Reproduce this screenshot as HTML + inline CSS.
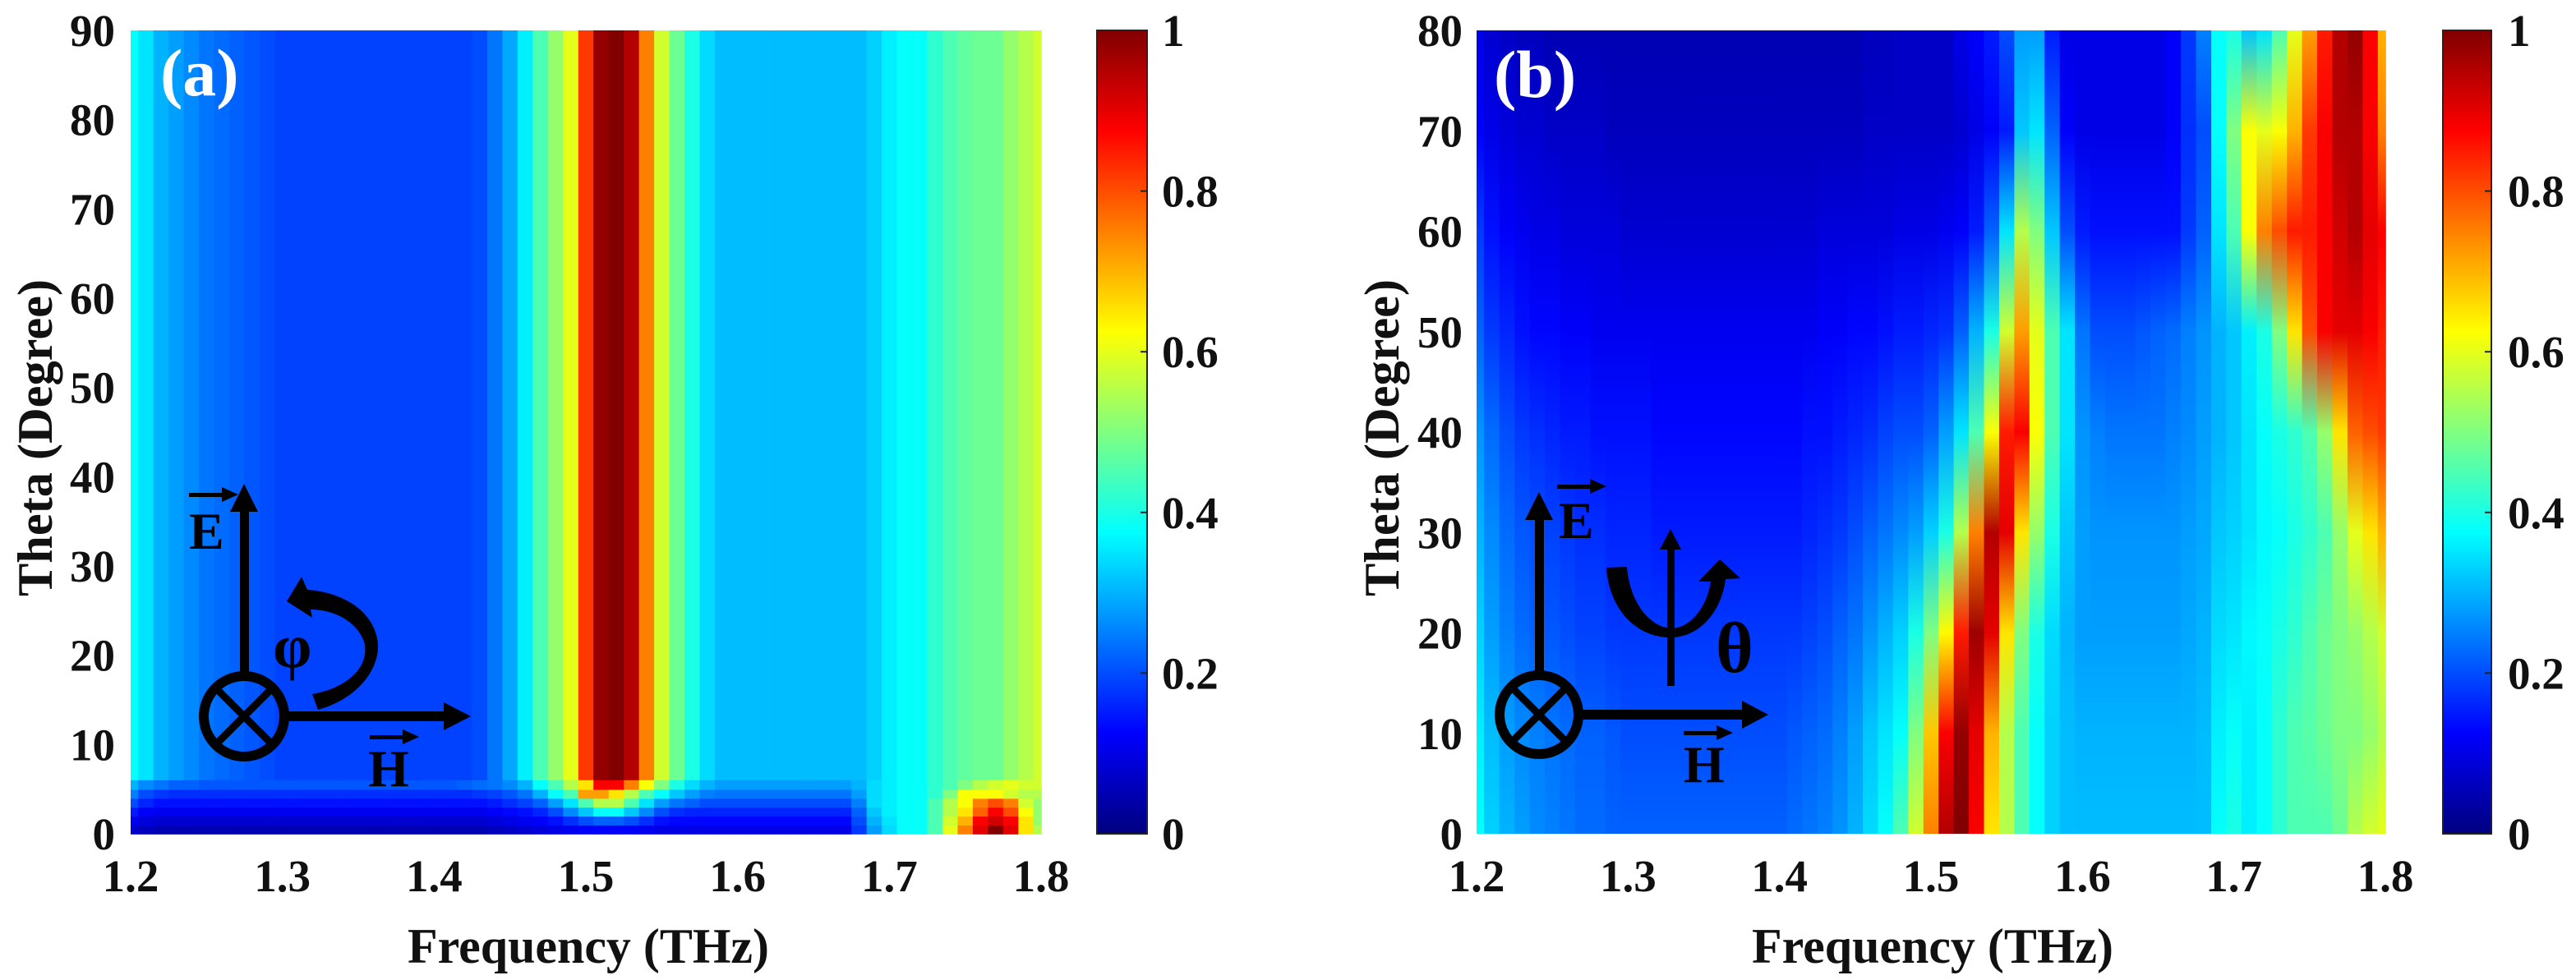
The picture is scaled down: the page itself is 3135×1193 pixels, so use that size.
<!DOCTYPE html>
<html><head><meta charset="utf-8"><title>Absorption maps</title>
<style>
html,body{margin:0;padding:0;background:#fff;}
svg{display:block;}
text{font-family:"Liberation Serif","Times New Roman",serif;font-weight:bold;}
</style></head>
<body>
<svg id="fig" xmlns="http://www.w3.org/2000/svg" width="3135" height="1193" viewBox="0 0 3135 1193">
  <rect width="3135" height="1193" fill="#fff"/>
  <g id="heat-a"></g>
  <g id="heat-b"></g>
  <g id="cbars"></g>
  <g id="ticks" font-size="55" fill="#111"></g>

  <text x="716" y="1172" font-size="60" text-anchor="middle" textLength="440" lengthAdjust="spacingAndGlyphs" fill="#111">Frequency (THz)</text>
  <text x="2352" y="1172" font-size="60" text-anchor="middle" textLength="440" lengthAdjust="spacingAndGlyphs" fill="#111">Frequency (THz)</text>
  <text transform="translate(63,533) rotate(-90)" font-size="60" text-anchor="middle" textLength="386" lengthAdjust="spacingAndGlyphs" fill="#111">Theta (Degree)</text>
  <text transform="translate(1702,533) rotate(-90)" font-size="60" text-anchor="middle" textLength="386" lengthAdjust="spacingAndGlyphs" fill="#111">Theta (Degree)</text>

  <text x="195" y="116" font-size="82" fill="#fff">(a)</text>
  <text x="1818" y="118" font-size="82" fill="#fff">(b)</text>

  <g fill="#000" stroke="none">
    <circle cx="297" cy="872" r="49" fill="none" stroke="#000" stroke-width="12"/>
    <line x1="263" y1="838" x2="331" y2="906" stroke="#000" stroke-width="9"/>
    <line x1="331" y1="838" x2="263" y2="906" stroke="#000" stroke-width="9"/>
    <rect x="292" y="615" width="11" height="210"/>
    <polygon points="297,589 280,623 314,623"/>
    <rect x="345" y="866" width="200" height="12"/>
    <polygon points="573,872 540,855 540,889"/>
    <text x="230" y="668" font-size="64">E</text>
    <rect x="230" y="600" width="44" height="5"/><polygon points="290,602 270,593 270,611"/>
    <text x="448" y="957" font-size="64">H</text>
    <rect x="450" y="895" width="44" height="5"/><polygon points="510,897 490,888 490,906"/>
    <text x="332" y="812" font-size="76">φ</text>
    <path d="M387,864 C440,850 470,805 457,770 C447,738 410,720 374,718 L367,702 L349,732 L380,752 L378,742 C410,742 438,760 444,785 C448,815 420,838 380,845 Z"/>
  </g>

  <g fill="#000" stroke="none">
    <circle cx="1873" cy="870" r="48" fill="none" stroke="#000" stroke-width="12"/>
    <line x1="1839" y1="836" x2="1907" y2="904" stroke="#000" stroke-width="9"/>
    <line x1="1907" y1="836" x2="1839" y2="904" stroke="#000" stroke-width="9"/>
    <rect x="1868" y="625" width="11" height="195"/>
    <polygon points="1873,599 1856,633 1890,633"/>
    <rect x="1920" y="864" width="205" height="12"/>
    <polygon points="2152,870 2120,853 2120,887"/>
    <text x="1897" y="655" font-size="64">E</text>
    <rect x="1895" y="590" width="44" height="5"/><polygon points="1955,592 1935,583 1935,601"/>
    <text x="2049" y="952" font-size="64">H</text>
    <rect x="2049" y="890" width="44" height="5"/><polygon points="2109,892 2089,883 2089,901"/>
    <rect x="2029" y="665" width="9" height="170"/>
    <polygon points="2033,644 2020,669 2046,669"/>
    <path d="M1955,691 L1980,690 C1983,730 2005,762 2033,765 C2060,765 2078,735 2082,708 L2067,708 L2093,681 L2118,704 L2100,705 C2095,745 2068,776 2033,776 C1990,776 1958,740 1955,691 Z"/>
    <text x="2088" y="818" font-size="88">θ</text>
  </g>
</svg>

<script>
// ---------- data ----------
const freqs = [];
for (let i = 0; i <= 60; i++) freqs.push(+(1.2 + i * 0.01).toFixed(2));
const xTickLabels = ["1.2","1.3","1.4","1.5","1.6","1.7","1.8"];
const xTicks = [1.2,1.3,1.4,1.5,1.6,1.7,1.8];
const yTicksA = [0,10,20,30,40,50,60,70,80,90];
const yTicksB = [0,10,20,30,40,50,60,70,80];
const cbTicks = [0,0.2,0.4,0.6,0.8,1];
const cbTickLabels = ["0","0.2","0.4","0.6","0.8","1"];

// Panel (a): absorption (%), rows theta = 0..5 deg, then theta >= 6 deg
const thetaRowsA = [0,1,2,3,4,5];
const absA_row0 = [8,6,5,5,5,5,5,5,5,5, 5,5,5,5,5,5,5,5,5,5, 5,5,5,5,6,7,8,9,10,11, 12,12,12,12,11,10,10,10,10,10, 10,10,10,10,10,10,10,10,18,28, 34,38,38,45,60,75,90,100,90,65, 55];
const absA_row1 = [11,9,8,8,8,8,8,8,8,8, 8,8,8,8,8,8,8,8,8,8, 8,8,8,8,9,10,11,12,14,17, 20,22,22,20,17,14,13,13,13,13, 13,13,13,13,13,13,13,13,20,30, 35,38,38,45,58,70,88,92,88,65, 52];
const absA_row2 = [15,12,11,11,11,11,11,11,11,11, 11,11,11,11,11,11,11,11,11,11, 11,11,11,11,12,13,14,16,20,26, 32,38,38,32,26,20,17,16,16,16, 16,16,16,16,16,16,16,16,22,32, 36,38,38,45,55,65,78,88,80,62, 52];
const absA_row3 = [20,16,14,14,14,14,14,14,14,14, 14,14,14,14,14,14,14,14,14,14, 14,14,14,14,15,17,19,22,28,35, 45,55,55,45,35,28,24,22,20,20, 20,20,20,20,20,20,20,20,25,34, 36,38,38,45,55,62,75,80,75,58, 52];
const absA_row4 = [25,20,18,17,17,17,17,17,17,17, 17,17,17,17,17,17,17,17,17,17, 17,17,17,18,19,21,24,30,38,45, 72,72,65,55,45,38,32,28,25,24, 24,24,24,24,24,24,24,24,28,34, 36,38,38,42,50,62,62,62,58,55, 55];
const absA_row5 = [30,26,24,22,22,21,21,21,21,21, 21,21,21,21,21,21,21,21,21,21, 21,21,22,23,24,26,30,38,45,55, 65,88,88,75,62,50,40,34,30,28, 28,28,28,28,28,28,28,28,30,34, 36,38,38,42,45,50,55,58,60,58, 58];
const absA_main = [38,35,30,28,26,24,23,22,21,20, 19,19,19,19,19,19,19,19,19,19, 19,19,19,20,24,29,36,45,52,60, 82,98,100,95,75,58,48,40,34,31, 31,31,31,31,31,31,31,31,31,33, 36,38,38,42,45,47,48,48,52,55, 58];

// Panel (b): absorption (%) at theta = 0,10,...,80 deg
const thetaRowsB = [0,10,20,30,40,50,60,70,80];
const absB_th0  = [38,33,30,28,26,25,24,23,23,22, 22,22,22,22,22,22,22,22,22,22, 22,23,24,25,27,30,34,38,45,58, 75,95,100,88,65,55,45,38,33,31, 31,31,31,31,31,31,31,31,31,38, 40,36,38,42,45,45,45,48,55,58, 60];
const absB_th10 = [36,31,28,26,25,24,23,22,22,21, 20,20,20,20,20,20,20,20,20,20, 20,21,22,23,25,28,32,35,38,50, 68,88,98,90,70,55,45,38,33,31, 30,30,30,30,30,30,30,30,31,36, 38,36,38,42,45,46,48,50,50,52, 55];
const absB_th20 = [33,28,25,23,22,21,20,19,19,18, 18,18,18,18,18,18,18,18,18,18, 18,18,19,20,22,24,27,30,33,40, 50,63,85,97,90,65,50,40,34,30, 28,28,28,28,28,28,28,29,30,34, 35,37,38,40,42,45,48,50,52,55, 58];
const absB_th30 = [30,26,23,21,20,19,18,17,17,16, 16,16,15,15,15,15,15,15,15,15, 15,15,16,17,18,20,22,24,26,28, 33,40,55,75,95,90,65,52,40,32, 28,27,27,27,27,27,27,28,29,32, 33,35,37,38,40,42,45,52,60,65, 70];
const absB_th40 = [27,23,20,18,17,16,15,15,14,14, 14,14,13,13,13,13,13,13,13,13, 13,13,14,14,15,16,17,19,20,20, 22,28,35,45,62,85,88,62,45,35, 27,25,24,24,24,24,25,26,28,30, 32,35,38,40,42,45,52,65,78,80, 82];
const absB_th50 = [22,18,16,14,13,13,12,12,11,11, 11,11,11,11,11,11,11,11,11,11, 11,11,11,12,12,13,13,14,15,15, 16,17,22,30,40,58,72,60,45,35, 24,20,20,20,21,22,23,25,27,30, 32,36,40,50,65,80,88,90,90,88, 85];
const absB_th60 = [18,14,12,11,10,10,9,9,9,9, 8,8,8,8,8,8,8,8,8,8, 8,8,8,9,9,9,9,9,10,10, 10,11,12,15,22,35,55,50,32,20, 15,14,14,14,14,14,14,18,22,35, 45,62,75,80,85,85,88,92,95,90, 88];
const absB_th70 = [12,10,9,8,8,7,7,7,7,6, 6,6,6,6,6,6,6,6,6,6, 6,6,6,6,6,6,7,7,7,7, 7,7,8,10,12,15,32,35,22,12, 10,10,10,10,10,10,12,17,20,38, 50,62,60,62,70,82,88,95,95,88, 75];
const absB_th80 = [10,8,7,6,6,5,5,5,5,5, 5,5,5,5,5,5,5,5,5,5, 5,5,5,5,5,5,6,6,7,7, 7,7,10,12,15,20,28,28,15,10, 10,10,10,10,10,10,12,18,25,38, 40,32,35,45,60,72,85,95,98,88, 70];

// ---------- layout ----------
const NS = "http://www.w3.org/2000/svg";
const PA = {x0:159, x1:1267, y0:37, y1:1015, tmax:90, cb:[1335,1396], cbLab:1414, yLabR:140};
const PB = {x0:1797, x1:2903, y0:37, y1:1015, tmax:80, cb:[2973,3032], cbLab:3052, yLabR:1780};

function jet(v){
  v = Math.max(0, Math.min(1, v));
  const c = t => Math.round(255*Math.max(0, Math.min(1, 1.5 - Math.abs(t))));
  return `rgb(${c(4*v-3)},${c(4*v-2)},${c(4*v-1)})`;
}
function xScale(P, f){ return P.x0 + (f - 1.2) / 0.6 * (P.x1 - P.x0); }
function yScale(P, t){ return P.y1 - t / P.tmax * (P.y1 - P.y0); }
function mk(tag, attrs, parent){
  const e = document.createElementNS(NS, tag);
  for (const k in attrs) e.setAttribute(k, attrs[k]);
  parent.appendChild(e);
  return e;
}
function colSpan(P, i){
  const f = freqs[i];
  const xa = Math.max(P.x0, xScale(P, f - 0.005));
  const xb = Math.min(P.x1, xScale(P, f + 0.005));
  return [xa, xb];
}
function drawRow(P, g, vals, tLo, tHi){
  const yA = yScale(P, Math.min(tHi, P.tmax)), yB = yScale(P, Math.max(tLo, 0));
  vals.forEach((v, i) => {
    const [xa, xb] = colSpan(P, i);
    const r = mk("rect", {x: xa.toFixed(2), y: yA.toFixed(2), width: (xb - xa + 0.8).toFixed(2), height: (yB - yA + 0.8).toFixed(2), fill: jet(v / 100)}, g);
    
    
  });
}

const svg = document.getElementById("fig");
const defs = mk("defs", {}, svg);

// Panel (a)
const gA = document.getElementById("heat-a");
const rowsA = [absA_row0, absA_row1, absA_row2, absA_row3, absA_row4, absA_row5];
drawRow(PA, gA, absA_main, 6, 90);
rowsA.forEach((row, k) => drawRow(PA, gA, row, thetaRowsA[k], thetaRowsA[k] + 1));

// Panel (b): each frequency column shaded vertically through its sampled theta rows
const gB = document.getElementById("heat-b");
const rowsB = [absB_th0, absB_th10, absB_th20, absB_th30, absB_th40, absB_th50, absB_th60, absB_th70, absB_th80];
freqs.forEach((f, i) => {
  const gid = "colgrad" + i;
  const lg = mk("linearGradient", {id: gid, x1: "0", y1: "1", x2: "0", y2: "0"}, defs);
  rowsB.forEach((row, k) => mk("stop", {offset: (thetaRowsB[k] / PB.tmax).toFixed(4), "stop-color": jet(row[i] / 100)}, lg));
  const [xa, xb] = colSpan(PB, i);
  const r = mk("rect", {x: xa.toFixed(2), y: PB.y0, width: (xb - xa + 0.8).toFixed(2), height: PB.y1 - PB.y0, fill: `url(#${gid})`}, gB);
  
  
});

// Colorbars
const cbG = document.getElementById("cbars");
const grad = mk("linearGradient", {id: "jetgrad", x1: "0", y1: "1", x2: "0", y2: "0"}, defs);
for (let s = 0; s <= 8; s++) mk("stop", {offset: s/8, "stop-color": jet(s/8)}, grad);
const tickG = document.getElementById("ticks");
[PA, PB].forEach((P, pi) => {
  const cb = mk("rect", {x: P.cb[0], y: P.y0, width: P.cb[1]-P.cb[0], height: P.y1-P.y0, fill: "url(#jetgrad)", stroke: "#222", "stroke-width": 2}, cbG);
  
  
  cbTicks.forEach((v, k) => {
    const y = P.y1 - v * (P.y1 - P.y0);
    if (v > 0 && v < 1) mk("line", {x1: P.cb[1]-8, x2: P.cb[1], y1: y, y2: y, stroke: "#222", "stroke-width": 2}, cbG);
    const t = mk("text", {x: P.cbLab, y: y + 19, "text-anchor": "start"}, tickG);
    t.textContent = cbTickLabels[k];
    
    
  });
  xTicks.forEach((f, k) => {
    const t = mk("text", {x: xScale(P, f), y: 1085, "text-anchor": "middle"}, tickG);
    t.textContent = xTickLabels[k];
    
    
  });
  (pi ? yTicksB : yTicksA).forEach(th => {
    const t = mk("text", {x: P.yLabR, y: yScale(P, th) + 19, "text-anchor": "end"}, tickG);
    t.textContent = String(th);
    
    
  });
});
</script>
</body></html>
